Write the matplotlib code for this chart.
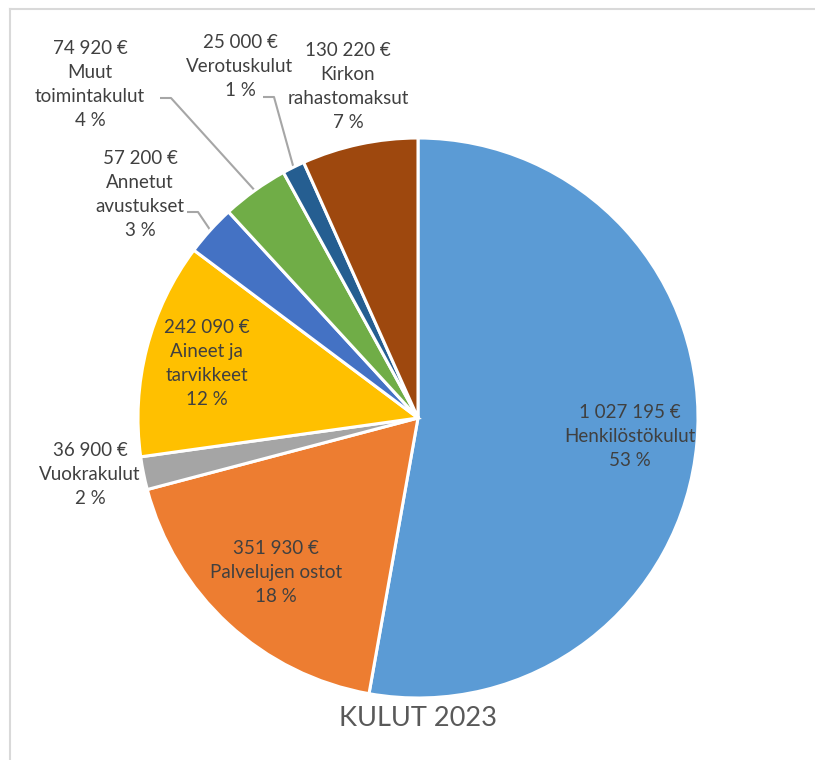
import numpy as np
import matplotlib
matplotlib.use("Agg")
import matplotlib.pyplot as plt
from matplotlib.lines import Line2D

categories = ["Henkilöstökulut", "Palvelujen ostot", "Vuokrakulut", "Aineet ja\ntarvikkeet",
              "Annetut\navustukset", "Muut\ntoimintakulut", "Verotuskulut", "Kirkon\nrahastomaksut"]
values = [1027195, 351930, 36900, 242090, 57200, 74920, 25000, 130220]
value_labels = ["1 027 195 €", "351 930 €", "36 900 €", "242 090 €", "57 200 €", "74 920 €", "25 000 €", "130 220 €"]
colors = ["#5B9BD5", "#ED7D31", "#A5A5A5", "#FFC000", "#4472C4", "#70AD47", "#255E91", "#9E480E"]
title = "KULUT 2023"

W, H = 815, 760
fig = plt.figure(figsize=(W / 100, H / 100), dpi=100)
ax = fig.add_axes([0, 0, 1, 1])
cx, cy, R = 418, 760 - 418, 280
wedges, _ = ax.pie(values, colors=colors, startangle=90, counterclock=False,
                   center=(cx, cy), radius=R,
                   wedgeprops=dict(edgecolor="white", linewidth=2.2))
ax.set_xlim(0, W)
ax.set_ylim(0, H)
ax.set_aspect("equal")
ax.axis("off")

total = sum(values)
font = "Lato"
tcol = "#404040"
fs = 13.5
ls = 1.5

def label_text(i):
    pct = round(values[i] / total * 100)
    return f"{value_labels[i]}\n{categories[i]}\n{pct} %"

def mid_angle(i):
    w = wedges[i]
    return np.deg2rad((w.theta1 + w.theta2) / 2)

# inside labels
for i, r in [(0, 0.76), (1, 0.75), (3, 0.78)]:
    a = mid_angle(i)
    ax.text(cx + r * R * np.cos(a), cy + r * R * np.sin(a), label_text(i),
            ha="center", va="center", fontsize=fs, family=font, color=tcol, linespacing=ls)

# outside labels: (index, text center x, text center y in pixels from top)
outside = [(2, 90, 474, None), (4, 140, 194, (187, 212)), (5, 90, 85, (160, 98)),
           (6, 240, 66, (263, 97)), (7, 348, 87, None)]
for i, tx, ty, lead in outside:
    ax.text(tx, H - ty, label_text(i), ha="center", va="center", fontsize=fs,
            family=font, color=tcol, linespacing=ls)
    if lead is not None:
        a = mid_angle(i)
        ex, ey = cx + R * np.cos(a), cy + R * np.sin(a)
        lx, ly = lead
        ax.plot([lx, lx + 11, ex], [H - ly, H - ly, ey], color="#A6A6A6", lw=1.5,
                solid_capstyle="butt", zorder=0.5)

ax.text(418, H - 718, title, ha="center", va="center", fontsize=19.5, family=font, color="#595959")

# chart frame
fig.add_artist(Line2D([10 / W, 10 / W], [0, 1 - 9 / H], transform=fig.transFigure, color="#D9D9D9", lw=1.5))
fig.add_artist(Line2D([10 / W, 1], [1 - 9 / H, 1 - 9 / H], transform=fig.transFigure, color="#D9D9D9", lw=1.5))

fig.savefig("out.png", dpi=100, facecolor="white")
